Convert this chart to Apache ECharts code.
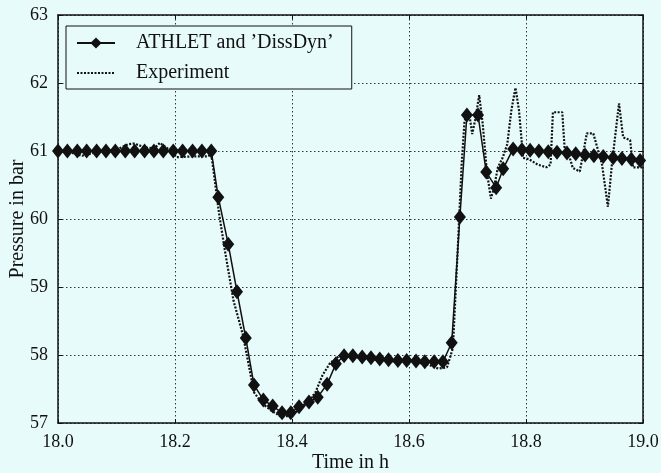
<!DOCTYPE html>
<html>
<head>
<meta charset="utf-8">
<script src="https://cdn.jsdelivr.net/npm/echarts@6/dist/echarts.min.js"></script>
<style>
  html, body { margin: 0; padding: 0; background: #e8fbfb; }
  #chart { width: 661px; height: 473px; }
</style>
</head>
<body>
<div id="chart"></div>
<script>
// ATHLET and 'DissDyn' simulation (time in h, pressure in bar)
var athletTime = [
  18.000, 18.016, 18.033, 18.049, 18.066, 18.082, 18.098, 18.115, 18.131, 18.148,
  18.164, 18.180, 18.197, 18.213, 18.230, 18.246, 18.262,
  18.274, 18.291, 18.306, 18.321, 18.335, 18.351, 18.367, 18.383, 18.398, 18.412,
  18.429, 18.444, 18.460, 18.475, 18.489, 18.504, 18.520, 18.535, 18.550, 18.565,
  18.581, 18.596, 18.612, 18.627, 18.643, 18.658,
  18.673, 18.687, 18.699, 18.718, 18.732, 18.749, 18.761, 18.778,
  18.793, 18.807, 18.822, 18.838, 18.853, 18.870, 18.885, 18.901, 18.916, 18.932,
  18.949, 18.964, 18.980, 18.995
];
var athletPressure = [
  61.00, 61.00, 61.00, 61.00, 61.00, 61.00, 61.00, 61.00, 61.00, 61.00,
  61.00, 61.00, 61.00, 61.00, 61.00, 61.00, 61.00,
  60.32, 59.63, 58.93, 58.25, 57.56, 57.34, 57.25, 57.15, 57.15, 57.24,
  57.31, 57.38, 57.57, 57.87, 57.99, 57.99, 57.97, 57.96, 57.94, 57.93,
  57.92, 57.92, 57.91, 57.90, 57.90, 57.90,
  58.18, 60.03, 61.53, 61.53, 60.69, 60.46, 60.74, 61.03,
  61.02, 61.01, 61.00, 60.99, 60.98, 60.97, 60.96, 60.94, 60.93, 60.92,
  60.90, 60.89, 60.88, 60.86
];

// Experiment
var expTime = [
  18.000, 18.020, 18.041, 18.060, 18.080, 18.100, 18.120, 18.130, 18.150, 18.165,
  18.174, 18.190, 18.203, 18.230, 18.255, 18.262,
  18.266, 18.275, 18.285, 18.300, 18.316, 18.325, 18.335, 18.350, 18.365, 18.380,
  18.395, 18.410, 18.425, 18.440, 18.452, 18.465, 18.480, 18.500, 18.520, 18.540,
  18.560, 18.580, 18.600, 18.620, 18.635, 18.650, 18.665,
  18.675, 18.683, 18.690, 18.695, 18.703, 18.708, 18.713, 18.720, 18.726, 18.733,
  18.740, 18.745, 18.752, 18.760, 18.768, 18.775, 18.782, 18.788, 18.795, 18.805,
  18.820, 18.835, 18.842, 18.846, 18.862, 18.866, 18.872, 18.880, 18.892, 18.904,
  18.915, 18.930, 18.940, 18.947, 18.959, 18.966, 18.978, 18.983, 19.000
];
var expPressure = [
  61.00, 60.98, 60.93, 60.97, 61.00, 61.02, 61.10, 61.11, 61.05, 61.04,
  61.12, 61.02, 60.91, 60.92, 60.92, 60.95,
  60.70, 60.10, 59.55, 58.80, 58.30, 57.90, 57.45, 57.28, 57.18, 57.10,
  57.10, 57.18, 57.28, 57.45, 57.70, 57.88, 57.98, 57.98, 57.95, 57.93,
  57.92, 57.90, 57.92, 57.88, 57.85, 57.80, 57.82,
  58.10, 59.50, 60.80, 61.45, 61.55, 61.25, 61.45, 61.82, 61.40, 60.70,
  60.30, 60.45, 60.76, 60.90, 61.10, 61.60, 61.93, 61.60, 60.90, 60.88,
  60.80, 60.76, 60.80, 61.57, 61.57, 61.04, 60.98, 60.75, 60.70, 61.26,
  61.26, 60.80, 60.18, 60.82, 61.70, 61.20, 61.16, 60.76, 60.76
];

var xTicks = [18.0, 18.2, 18.4, 18.6, 18.8, 19.0];
var yTicks = [57, 58, 59, 60, 61, 62, 63];

function pairs(xs, ys) {
  return xs.map(function (x, i) { return [x, ys[i]]; });
}

var serif = 'Liberation Serif';
var ink = '#111';

var chart = echarts.init(document.getElementById('chart'), null, { renderer: 'canvas' });

var baseX = {
  type: 'value',
  min: xTicks[0],
  max: xTicks[xTicks.length - 1],
  interval: 0.2,
  axisLine: { show: true, onZero: false, lineStyle: { color: ink, width: 1.5 } },
  axisTick: { show: true, inside: true, length: 4, lineStyle: { color: ink } }
};
var baseY = {
  type: 'value',
  min: yTicks[0],
  max: yTicks[yTicks.length - 1],
  interval: 1,
  axisLine: { show: true, onZero: false, lineStyle: { color: ink, width: 1.5 } },
  axisTick: { show: true, inside: true, length: 4, lineStyle: { color: ink } }
};

var opt = {
  animation: false,
  backgroundColor: '#e8fbfb',
  grid: { left: 58, right: 18, top: 15, bottom: 50, containLabel: false, outerBoundsMode: 'none' },
  legend: {
    left: 66,
    top: 26,
    orient: 'vertical',
    padding: [7, 18, 6, 10],
    itemGap: 10,
    itemWidth: 38,
    itemHeight: 14,
    borderColor: ink,
    borderWidth: 1,
    backgroundColor: '#e8fbfb',
    textStyle: { fontFamily: serif, fontSize: 20, color: ink, padding: [0, 0, 0, 16] },
    data: [
      { name: 'ATHLET and ’DissDyn’' },
      { name: 'Experiment', itemStyle: { opacity: 0 } }
    ]
  },
  xAxis: [
    Object.assign({}, baseX, {
      position: 'bottom',
      name: 'Time in h',
      nameLocation: 'middle',
      nameGap: 30,
      nameMoveOverlap: false,
      nameTextStyle: { fontFamily: serif, fontSize: 20, color: ink },
      axisLabel: {
        fontFamily: serif, fontSize: 18, color: ink, margin: 10,
        formatter: function (v) { return v.toFixed(1); }
      },
      splitLine: { show: true, lineStyle: { color: '#333', type: [1.5, 2.5], width: 1 } }
    }),
    Object.assign({}, baseX, {
      position: 'top',
      axisLabel: { show: false },
      splitLine: { show: false }
    })
  ],
  yAxis: [
    Object.assign({}, baseY, {
      position: 'left',
      name: 'Pressure in bar',
      nameLocation: 'middle',
      nameGap: 30,
      nameMoveOverlap: false,
      nameTextStyle: { fontFamily: serif, fontSize: 20, color: ink },
      axisLabel: { fontFamily: serif, fontSize: 18, color: ink, margin: 10 },
      splitLine: { show: true, lineStyle: { color: '#333', type: [1.5, 2.5], width: 1 } }
    }),
    Object.assign({}, baseY, {
      position: 'right',
      axisLabel: { show: false },
      splitLine: { show: false }
    })
  ],
  series: [
    {
      name: 'Experiment',
      type: 'line',
      data: pairs(expTime, expPressure),
      symbol: 'none',
      lineStyle: { color: ink, width: 2.2, type: [2, 1.5] },
      itemStyle: { color: ink },
      z: 2
    },
    {
      name: 'ATHLET and ’DissDyn’',
      type: 'line',
      data: pairs(athletTime, athletPressure),
      symbol: 'diamond',
      symbolSize: [12, 15],
      lineStyle: { color: ink, width: 1.5 },
      itemStyle: { color: ink },
      z: 3
    }
  ]
};

chart.setOption(opt);
</script>
</body>
</html>
